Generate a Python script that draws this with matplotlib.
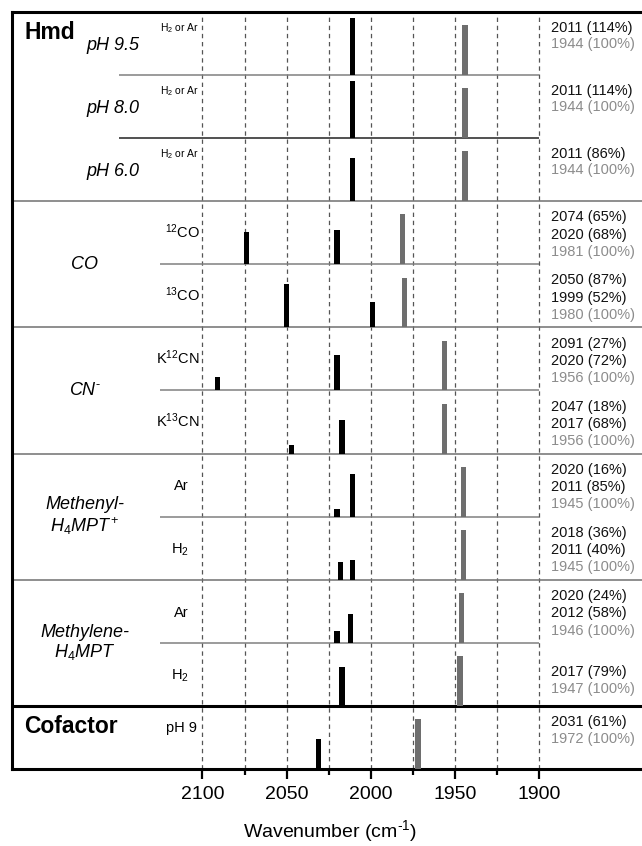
import matplotlib
matplotlib.use("Agg")
import matplotlib.pyplot as plt

plt.rcParams['font.family'] = ['Liberation Sans', 'DejaVu Sans']
plt.rcParams['mathtext.fontset'] = 'custom'
plt.rcParams['mathtext.rm'] = 'Liberation Sans'
plt.rcParams['mathtext.it'] = 'Liberation Sans:italic'
plt.rcParams['mathtext.bf'] = 'Liberation Sans:bold'

# peak positions (cm-1) and relative intensities (%) per spectrum, top to bottom
black_pos = [[2011], [2011], [2011],
             [2074, 2020], [2050, 1999],
             [2091, 2020], [2047, 2017],
             [2020, 2011], [2018, 2011],
             [2020, 2012], [2017],
             [2031]]
black_int = [[114], [114], [86],
             [65, 68], [87, 52],
             [27, 72], [18, 68],
             [16, 85], [36, 40],
             [24, 58], [79],
             [61]]
gray_pos = [1944, 1944, 1944, 1981, 1980, 1956, 1956, 1945, 1945, 1946, 1947, 1972]
gray_int = [100] * 12

row_labels = [r"H$_2$ or Ar", r"H$_2$ or Ar", r"H$_2$ or Ar",
              r"$^{12}$CO", r"$^{13}$CO",
              r"K$^{12}$CN", r"K$^{13}$CN",
              "Ar", r"H$_2$", "Ar", r"H$_2$", "pH 9"]
ph_labels = ["pH 9.5", "pH 8.0", "pH 6.0"]
group_labels = ["CO", r"CN$^{\text{-}}$", "Methenyl-\nH$_4$MPT$^+$", "Methylene-\nH$_4$MPT"]
group_rows = [(3, 4), (5, 6), (7, 8), (9, 10)]

major_ticks = [2100, 2050, 2000, 1950, 1900]
minor_ticks = [2075, 2025, 1975, 1925]

n_rows = len(black_pos)
scale = 0.79 / 100.0   # 100 % -> fraction of a row
bar_w = 3.2
gray_bar = '#6e6e6e'
gray_txt = '#8c8c8c'

fig = plt.figure(figsize=(6.42, 8.46), dpi=100)
ax = fig.add_axes([12 / 642, 1 - 769 / 846, 630 / 642, 757 / 846])
ax.set_xlim(2213.2, 1838.8)
ax.set_ylim(0, n_rows)

for v in range(1900, 2101, 25):
    ax.axvline(v, color='#555555', lw=0.9, ls=(0, (3.5, 3)), zorder=1)

for r in range(n_rows):
    base = n_rows - 1 - r
    top = n_rows - r
    ax.bar(black_pos[r], [h * scale for h in black_int[r]], width=bar_w,
           bottom=base, color='black', zorder=3)
    ax.bar(gray_pos[r], gray_int[r] * scale, width=bar_w, bottom=base,
           color=gray_bar, zorder=3)

    # sub-label at the left of the 2100 line
    if r < 3:
        ax.text(2102, top - 0.25, row_labels[r], ha='right', va='center', fontsize=7.5)
    elif r == 11:
        ax.text(2103, top - 0.35, row_labels[r], ha='right', va='center', fontsize=10.5)
    elif row_labels[r] in ("Ar", r"H$_2$"):
        ax.text(2108, top - 0.52, row_labels[r], ha='right', va='center', fontsize=10.5)
    else:
        ax.text(2101.5, top - 0.48, row_labels[r], ha='right', va='center', fontsize=10.5)

    # peak annotations on the right
    lines = [(f"{p} ({i}%)", '#111111') for p, i in zip(black_pos[r], black_int[r])]
    lines.append((f"{gray_pos[r]} ({gray_int[r]}%)", gray_txt))
    step = 0.25 if r < 3 else 0.275
    start = 0.46 if r == 10 else 0.255
    for k, (s, c) in enumerate(lines):
        ax.text(1893, top - start - k * step, s, ha='left', va='center',
                fontsize=10.5, color=c)

# baselines inside groups
ax.hlines(n_rows - 1, 2149.6, 1900, color='#808080', lw=1.1, zorder=2)
ax.hlines(n_rows - 2, 2149.6, 1900, color='#222222', lw=1.1, zorder=2)
for r in (3, 5, 7, 9):
    ax.hlines(n_rows - 1 - r, 2125.3, 1900, color='#808080', lw=1.1, zorder=2)

# group dividers
for r in (2, 4, 6, 8):
    ax.axhline(n_rows - 1 - r, color='#707070', lw=1.1, zorder=2)
ax.axhline(1, color='black', lw=2.2, zorder=2)

# left labels
ax.text(2206, n_rows - 0.32, "Hmd", ha='left', va='center', fontsize=16.5, fontweight='bold')
ax.text(2206, 1 - 0.33, "Cofactor", ha='left', va='center', fontsize=16.5, fontweight='bold')
for r, s in enumerate(ph_labels):
    ax.text(2153, n_rows - r - 0.53, s, ha='center', va='center', fontsize=13, style='italic')
for (r0, r1), s in zip(group_rows, group_labels):
    ax.text(2170, n_rows - 1 - r0, s, ha='center', va='center', fontsize=13,
            style='italic', multialignment='center', linespacing=1.1)

ax.set_xticks(major_ticks)
ax.set_xticks(minor_ticks, minor=True)
ax.set_xticklabels([str(t) for t in major_ticks], fontsize=14)
ax.set_yticks([])
ax.tick_params(axis='x', which='major', direction='out', length=7, width=1.6, pad=5)
ax.tick_params(axis='x', which='minor', direction='out', length=4.5, width=1.6)
for s in ('left', 'top', 'bottom'):
    ax.spines[s].set_linewidth(2.2)
ax.spines['right'].set_visible(False)

fig.text(330 / 642, 1 - 831 / 846, r"Wavenumber (cm$^{\text{-1}}$)", ha='center', va='center', fontsize=14)

fig.savefig("out.png", dpi=100)
plt.close(fig)
